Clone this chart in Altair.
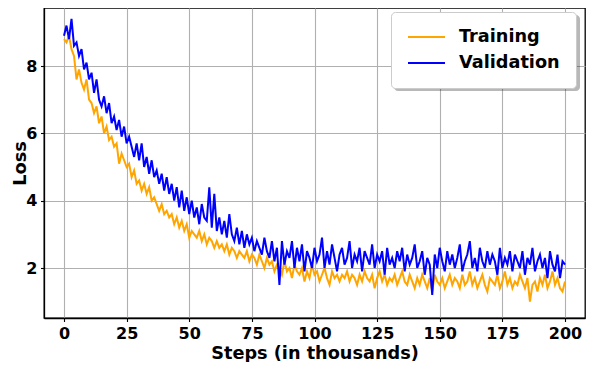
import altair as alt
import pandas as pd

steps = list(range(0, 201))

training = [
    8.8, 8.7, 8.9, 8.5, 8.3, 7.6, 7.9, 7.5, 7.3, 7.6, 7.0,
    6.9, 6.6, 6.8, 6.3, 6.5, 6.0, 6.2, 5.8, 5.9, 5.6,
    5.7, 5.1, 5.4, 5.2, 5.0, 5.1, 4.7, 4.9, 4.5, 4.6,
    4.3, 4.5, 4.2, 4.4, 4.0, 4.1, 3.9, 3.7, 3.9, 3.6,
    3.7, 3.5, 3.6, 3.3, 3.5, 3.2, 3.4, 3.1, 3.3, 2.9,
    3.1, 3.0, 2.9, 3.1, 2.8, 3.0, 2.7, 2.9, 2.8, 2.6,
    2.8, 2.6, 2.7, 2.5, 2.7, 2.4, 2.6, 2.5, 2.3, 2.5,
    2.4, 2.3, 2.5, 2.2, 2.4, 2.3, 2.1, 2.4, 2.2, 2.0,
    2.3, 2.1, 2.2, 1.9, 2.1, 2.0, 1.8, 2.2, 1.9, 2.0,
    1.7, 2.1, 1.9, 1.8, 2.0, 1.6, 1.9, 1.7, 2.1, 1.8,
    1.9, 1.6, 1.8, 2.0, 1.7, 1.5, 1.9, 1.7, 1.8, 1.6,
    1.8, 1.7, 1.9, 1.6, 1.8, 1.7, 1.5, 1.8, 1.6, 1.9,
    1.7, 1.6, 1.8, 1.4, 1.7, 1.9, 1.6, 1.8, 1.5, 1.7,
    1.6, 1.8, 1.5, 1.7, 1.9, 1.6, 1.5, 1.8, 1.6, 1.4,
    1.7, 1.5, 1.8, 1.6, 1.4, 1.7, 1.3, 1.8, 1.6, 1.5,
    1.7, 1.4, 1.6, 1.8, 1.5, 1.7, 1.6, 1.4, 1.8, 1.5,
    1.6, 1.9, 1.5, 1.7, 1.4, 1.6, 1.8, 1.5, 1.3, 1.7,
    1.6, 1.5, 1.8, 1.4, 1.6, 1.9, 1.5, 1.7, 1.4, 1.6,
    1.5, 1.8, 1.6, 1.4, 1.7, 1.0, 1.5, 1.6, 1.3, 1.7,
    1.5, 1.8, 1.4, 1.6, 1.9, 1.5, 1.7, 1.4, 1.3, 1.6,
]

validation = [
    8.9, 9.2, 8.8, 9.4, 8.6, 8.7, 8.3, 8.5, 7.9, 8.1, 7.6,
    7.8, 7.2, 7.6, 7.0, 6.8, 7.1, 6.6, 6.9, 6.3, 6.5,
    6.1, 6.4, 5.9, 6.2, 5.7, 5.9, 5.6, 5.3, 5.7, 5.2,
    5.7, 5.0, 5.3, 4.8, 5.2, 4.7, 4.9, 4.5, 4.8, 4.3,
    4.7, 4.2, 4.5, 4.0, 4.4, 3.8, 4.3, 3.7, 4.1, 3.6,
    4.0, 3.5, 3.8, 3.3, 3.9, 3.5, 3.4, 4.4, 3.2, 4.2,
    3.1, 3.5, 3.0, 3.4, 2.9, 3.6, 3.0, 2.8, 3.2, 2.7,
    3.1, 2.6, 3.0, 2.7, 2.9, 2.5, 2.8, 2.6, 2.4, 2.9,
    2.5, 2.3, 2.8, 2.2, 2.6, 1.5, 2.8, 2.1, 2.5, 2.3,
    2.8, 2.0, 2.6, 2.2, 2.7, 1.9, 2.5, 2.3, 2.0, 2.6,
    2.2, 2.4, 2.9, 2.0, 2.5, 2.1, 2.7, 2.3, 1.9, 2.4,
    2.6, 2.1, 2.3, 2.8, 2.0, 2.4, 2.2, 2.6, 1.9, 2.5,
    2.3, 2.1, 2.7, 2.0, 2.4, 2.2, 2.5, 1.8, 2.6, 2.1,
    2.3, 2.0, 2.5, 2.2, 2.6, 1.9, 2.4, 2.1, 2.3, 2.7,
    2.0, 2.2, 2.5, 1.8, 2.3, 2.1, 1.2, 2.4, 2.0, 2.6,
    2.2, 1.9, 2.5, 2.1, 2.4, 2.0, 2.3, 2.7, 1.9, 2.2,
    2.4, 2.8, 2.0, 2.3, 1.9, 2.6, 2.2, 2.0, 2.5, 2.1,
    2.4, 2.2, 1.8, 2.6, 2.0, 2.3, 2.1, 2.5, 1.9, 2.4,
    2.2, 2.0, 2.5, 1.8, 2.3, 2.1, 2.6, 1.9, 2.2, 2.4,
    2.0, 2.3, 1.7, 2.5, 2.1, 1.9, 2.4, 1.7, 2.2, 2.1,
]

series_names = ["Training", "Validation"]
series_colors = ["#ffa500", "#0000ff"]
x_ticks = [0, 25, 50, 75, 100, 125, 150, 175, 200]
y_ticks = [2, 4, 6, 8]

rows = []
for name, vals in zip(series_names, [training, validation]):
    for s, v in zip(steps, vals):
        rows.append({"step": s, "loss": v, "series": name})
df = pd.DataFrame(rows)

FONT = "DejaVu Sans"
W, H = 541, 310

lines = alt.Chart(df).mark_line(strokeWidth=2, clip=True).encode(
    x=alt.X("step:Q", scale=alt.Scale(domain=[-7.98, 207.98], nice=False, zero=False),
            axis=alt.Axis(values=x_ticks, title="Steps (in thousands)",
                          titleY=40, titleBaseline="alphabetic")),
    y=alt.Y("loss:Q", scale=alt.Scale(domain=[0.515, 9.723], nice=False, zero=False),
            axis=alt.Axis(values=y_ticks, title="Loss", titleX=-19, titleY=H / 2,
                          titleBaseline="alphabetic", titleAngle=270)),
    color=alt.Color("series:N",
                    scale=alt.Scale(domain=series_names, range=series_colors),
                    legend=alt.Legend(title=None, orient="none", legendX=347, legendY=4,
                                      symbolType="stroke", symbolStrokeWidth=2,
                                      symbolSize=1369, clipHeight=18,
                                      labelFontSize=17.7,
                                      labelFont=FONT, labelFontWeight="bold",
                                      labelColor="black", labelOffset=13,
                                      padding=16, rowPadding=8,
                                      strokeColor="#cccccc", fillColor="white",
                                      cornerRadius=4)),
    detail="series:N",
)

# soft drop shadow under the legend box (decoration only)
shadow = alt.Chart(pd.DataFrame({"k": [0]})).mark_rect(
    color="black", opacity=0.28, cornerRadius=4
).encode(
    x=alt.value(350), x2=alt.value(536), y=alt.value(7), y2=alt.value(83)
)

chart = alt.layer(lines, shadow).properties(
    width=W, height=H,
    autosize=alt.AutoSizeParams(type="none"),
    padding={"left": 36, "top": 0, "right": 1, "bottom": 44},
).configure_view(
    stroke="black", strokeWidth=1.3
).configure_axis(
    labelFont=FONT, labelFontWeight="bold", labelFontSize=16, labelColor="black",
    titleFont=FONT, titleFontWeight="bold", titleFontSize=17.7, titleColor="black",
    gridColor="#b0b0b0", gridWidth=1.1, domainColor="black", domainWidth=1.3,
    tickColor="black", tickSize=3.5, tickWidth=1.1, labelPadding=3.5,
)

chart.save("out.html", embed_options={"renderer": "svg", "actions": False})
